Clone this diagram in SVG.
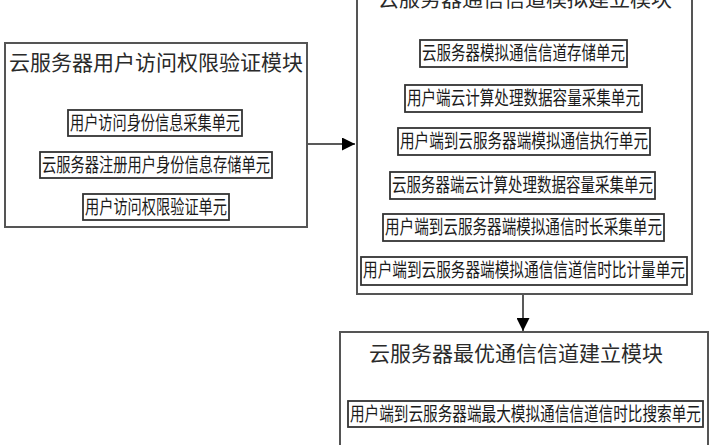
<svg xmlns="http://www.w3.org/2000/svg" width="713" height="445" viewBox="0 0 713 445">
<style>
.module{fill:#fff;stroke:#555;stroke-width:2}
.unit{fill:#fff;stroke:#333;stroke-width:1.8}
.title{font-family:"Noto Sans CJK SC","Noto Sans",sans-serif;font-size:21px;fill:#2a2a2a;text-anchor:middle}
.ut{font-family:"Noto Sans CJK SC","Noto Sans",sans-serif;font-size:19px;fill:#1a1a1a;text-anchor:middle}
.conn{stroke:#222;stroke-width:1.5;fill:none}
</style>
<defs>
<marker id="arrow" viewBox="0 0 10 10" refX="10" refY="5" markerWidth="18" markerHeight="13" markerUnits="userSpaceOnUse" orient="auto">
<path d="M0,0 L10,5 L0,10 z" fill="#000"/>
</marker>
</defs>
<rect width="713" height="445" fill="#fff"/>
<g id="connectors">
<line class="conn" x1="307" y1="144" x2="355" y2="144" marker-end="url(#arrow)"/>
<line class="conn" x1="523" y1="294" x2="523" y2="331" marker-end="url(#arrow)"/>
</g>
<g id="module-access">
<rect class="module" x="5" y="43" width="302" height="184"/>
<text class="title" x="156" y="70">云服务器用户访问权限验证模块</text>
<g id="unit-a1"><rect class="unit" x="68" y="110" width="174" height="26"/><text class="ut" x="155" y="130" textLength="170" lengthAdjust="spacingAndGlyphs">用户访问身份信息采集单元</text></g>
<g id="unit-a2"><rect class="unit" x="40" y="152" width="232" height="26"/><text class="ut" x="156" y="172" textLength="228" lengthAdjust="spacingAndGlyphs">云服务器注册用户身份信息存储单元</text></g>
<g id="unit-a3"><rect class="unit" x="83" y="194" width="146" height="26"/><text class="ut" x="156" y="214" textLength="142" lengthAdjust="spacingAndGlyphs">用户访问权限验证单元</text></g>
</g>
<g id="module-sim">
<rect class="module" x="357" y="-10" width="335" height="304"/>
<text class="title" x="525" y="6">云服务器通信信道模拟建立模块</text>
<g id="unit-b1"><rect class="unit" x="420" y="40" width="207" height="27"/><text class="ut" x="523.5" y="60" textLength="203" lengthAdjust="spacingAndGlyphs">云服务器模拟通信信道存储单元</text></g>
<g id="unit-b2"><rect class="unit" x="405" y="85" width="237" height="27"/><text class="ut" x="523.5" y="105" textLength="233" lengthAdjust="spacingAndGlyphs">用户端云计算处理数据容量采集单元</text></g>
<g id="unit-b3"><rect class="unit" x="398" y="128" width="252" height="27"/><text class="ut" x="524" y="148" textLength="248" lengthAdjust="spacingAndGlyphs">用户端到云服务器端模拟通信执行单元</text></g>
<g id="unit-b4"><rect class="unit" x="390" y="172" width="265" height="27"/><text class="ut" x="522.5" y="192" textLength="261" lengthAdjust="spacingAndGlyphs">云服务器端云计算处理数据容量采集单元</text></g>
<g id="unit-b5"><rect class="unit" x="383" y="214" width="281" height="27"/><text class="ut" x="523.5" y="234" textLength="277" lengthAdjust="spacingAndGlyphs">用户端到云服务器端模拟通信时长采集单元</text></g>
<g id="unit-b6"><rect class="unit" x="361" y="257" width="326" height="28"/><text class="ut" x="524" y="277" textLength="322" lengthAdjust="spacingAndGlyphs">用户端到云服务器端模拟通信信道信时比计量单元</text></g>
</g>
<g id="module-optimal">
<rect class="module" x="340" y="332" width="368" height="130"/>
<text class="title" x="516" y="361">云服务器最优通信信道建立模块</text>
<g id="unit-c1"><rect class="unit" x="348" y="401" width="355" height="26"/><text class="ut" x="525.5" y="421" textLength="351" lengthAdjust="spacingAndGlyphs">用户端到云服务器端最大模拟通信信道信时比搜索单元</text></g>
</g>
</svg>
